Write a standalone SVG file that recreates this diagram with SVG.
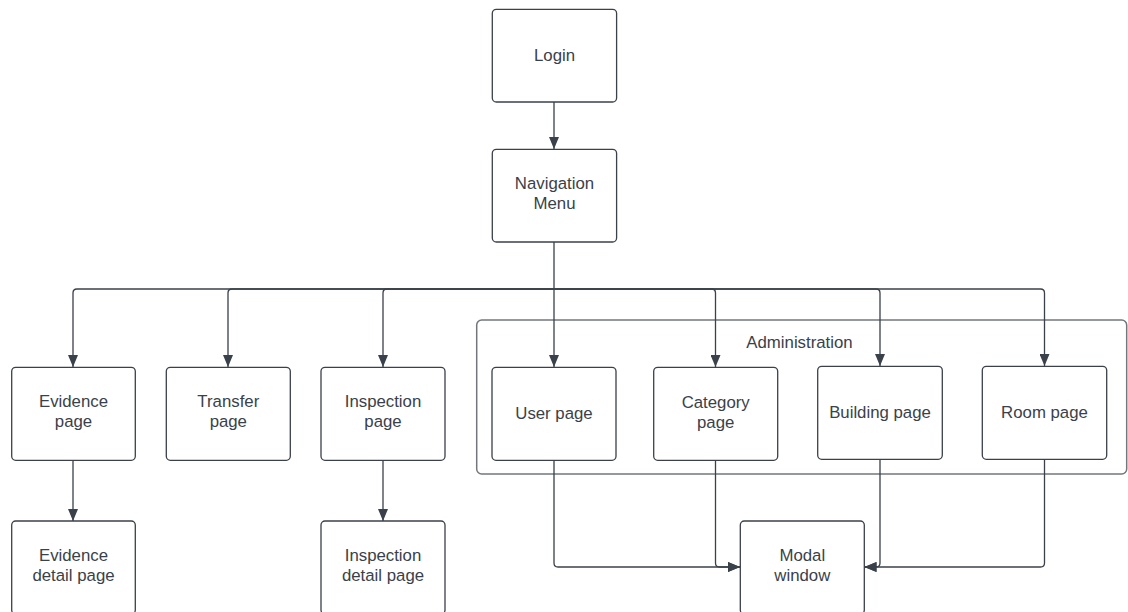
<svg xmlns="http://www.w3.org/2000/svg" width="1128" height="612" viewBox="0 0 1128 612">
  <style>
    .box { fill: #ffffff; stroke: #3a414a; stroke-width: 1.3; }
    .group { fill: none; stroke: #73777c; stroke-width: 1.5; }
    .lbl { font-family: "Liberation Sans", Arial, sans-serif; font-size: 16.8px; fill: #3a414a; text-anchor: middle; }
    .wire { fill: none; stroke: #3a414a; stroke-width: 1.3; }
  </style>
  <defs>
    <marker id="arrow" markerUnits="userSpaceOnUse" markerWidth="12" markerHeight="10" refX="12" refY="5" orient="auto">
      <path d="M0 0 L12 5 L0 10 Z" fill="#3a414a"/>
    </marker>
  </defs>
  <rect width="1128" height="612" fill="#ffffff"/>

  <!-- Administration container -->
  <g id="administration">
    <rect class="group" x="476.7" y="320" width="650" height="154" rx="5"/>
    <text class="lbl" x="799.5" y="347.5">Administration</text>
  </g>

  <!-- Connectors -->
  <g id="connectors">
    <path class="wire" d="M554 102 V149" marker-end="url(#arrow)"/>
    <path class="wire" d="M554 242 V367" marker-end="url(#arrow)"/>
    <path class="wire" d="M554 289 H77 Q73 289 73 293 V367" marker-end="url(#arrow)"/>
    <path class="wire" d="M554 289 H232 Q228 289 228 293 V367" marker-end="url(#arrow)"/>
    <path class="wire" d="M554 289 H387 Q383 289 383 293 V367" marker-end="url(#arrow)"/>
    <path class="wire" d="M554 289 H711.5 Q715.5 289 715.5 293 V367" marker-end="url(#arrow)"/>
    <path class="wire" d="M554 289 H876 Q880 289 880 293 V366" marker-end="url(#arrow)"/>
    <path class="wire" d="M554 289 H1040.5 Q1044.5 289 1044.5 293 V366" marker-end="url(#arrow)"/>
    <path class="wire" d="M73 460 V521" marker-end="url(#arrow)"/>
    <path class="wire" d="M383 460 V521" marker-end="url(#arrow)"/>
    <path class="wire" d="M554 460 V563 Q554 567 558 567 H740" marker-end="url(#arrow)"/>
    <path class="wire" d="M715.5 460 V563 Q715.5 567 719.5 567 H740" marker-end="url(#arrow)"/>
    <path class="wire" d="M880 459 V563 Q880 567 876 567 H864.5" marker-end="url(#arrow)"/>
    <path class="wire" d="M1044.5 459 V563 Q1044.5 567 1040.5 567 H864.5" marker-end="url(#arrow)"/>
  </g>

  <g id="login">
    <rect class="box" x="492.3" y="9.3" width="124.3" height="92.7" rx="4"/>
    <text class="lbl" x="554.5" y="61">Login</text>
  </g>
  <g id="navigation-menu">
    <rect class="box" x="492.3" y="149.3" width="124.3" height="92.7" rx="4"/>
    <text class="lbl" x="554.5" y="189">Navigation</text>
    <text class="lbl" x="554.5" y="209">Menu</text>
  </g>

  <g id="evidence-page">
    <rect class="box" x="11.7" y="367.3" width="123.6" height="93" rx="4"/>
    <text class="lbl" x="73.5" y="407">Evidence</text>
    <text class="lbl" x="73.5" y="427">page</text>
  </g>
  <g id="transfer-page">
    <rect class="box" x="166.3" y="367.3" width="124" height="93" rx="4"/>
    <text class="lbl" x="228.3" y="407">Transfer</text>
    <text class="lbl" x="228.3" y="427">page</text>
  </g>
  <g id="inspection-page">
    <rect class="box" x="321" y="367.3" width="124" height="93" rx="4"/>
    <text class="lbl" x="383" y="407">Inspection</text>
    <text class="lbl" x="383" y="427">page</text>
  </g>
  <g id="user-page">
    <rect class="box" x="492" y="367.3" width="124" height="93" rx="4"/>
    <text class="lbl" x="554" y="418.5">User page</text>
  </g>
  <g id="category-page">
    <rect class="box" x="653.7" y="367.3" width="124" height="93" rx="4"/>
    <text class="lbl" x="715.7" y="408">Category</text>
    <text class="lbl" x="715.7" y="428">page</text>
  </g>
  <g id="building-page">
    <rect class="box" x="817.7" y="366.3" width="124.6" height="93" rx="4"/>
    <text class="lbl" x="880" y="418">Building page</text>
  </g>
  <g id="room-page">
    <rect class="box" x="982.3" y="366.3" width="124.4" height="93" rx="4"/>
    <text class="lbl" x="1044.5" y="418">Room page</text>
  </g>

  <g id="evidence-detail-page">
    <rect class="box" x="11.7" y="521" width="123.6" height="93" rx="4"/>
    <text class="lbl" x="73.5" y="561">Evidence</text>
    <text class="lbl" x="73.5" y="581">detail page</text>
  </g>
  <g id="inspection-detail-page">
    <rect class="box" x="321" y="521" width="124" height="93" rx="4"/>
    <text class="lbl" x="383" y="561">Inspection</text>
    <text class="lbl" x="383" y="581">detail page</text>
  </g>
  <g id="modal-window">
    <rect class="box" x="740.3" y="521" width="124" height="93" rx="4"/>
    <text class="lbl" x="802.3" y="561">Modal</text>
    <text class="lbl" x="802.3" y="581">window</text>
  </g>
</svg>
